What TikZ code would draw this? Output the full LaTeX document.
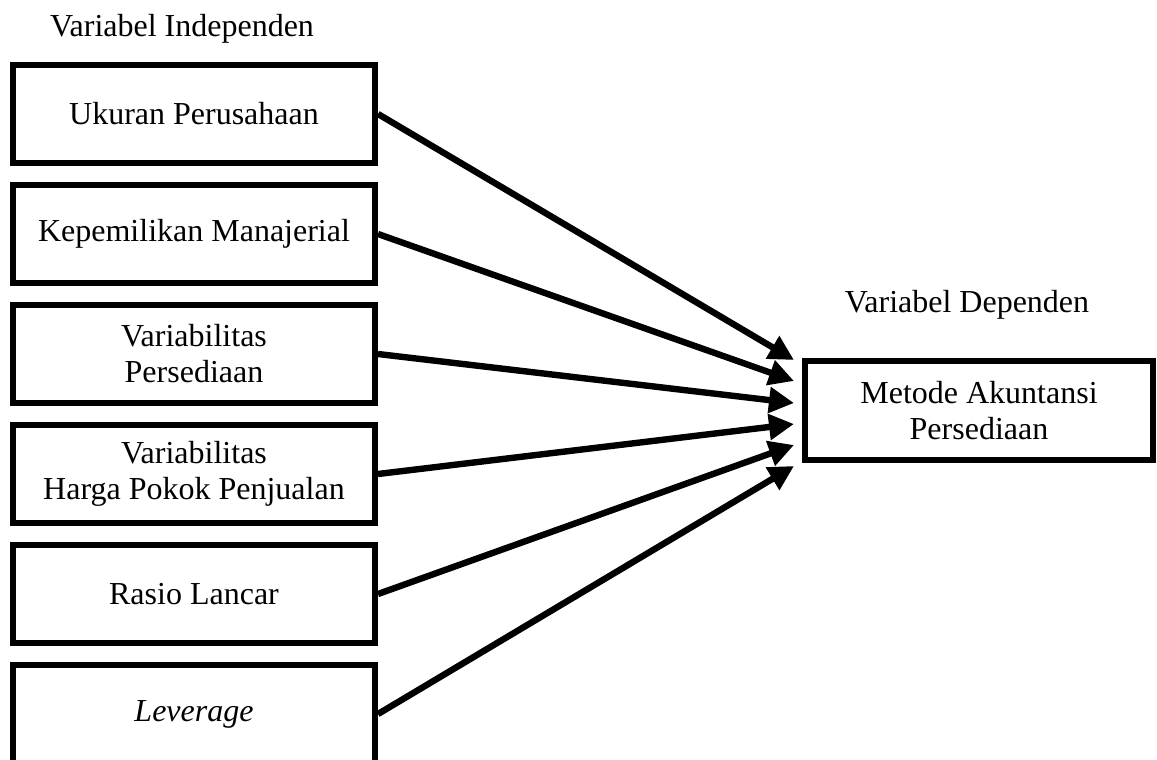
\documentclass[tikz,border=0pt]{standalone}
\usepackage{fontspec}
\setmainfont{Liberation Serif}
\usetikzlibrary{arrows.meta}

\begin{document}
\begin{tikzpicture}[x=0.5pt,y=-0.5pt,
    every node/.style={font=\fontsize{16}{18}\selectfont, align=center, inner sep=0pt},
    varbox/.style={draw, line width=3pt, minimum width=181pt, minimum height=49pt},
    depbox/.style={draw, line width=3pt, minimum width=174pt, minimum height=49.5pt},
    arr/.style={line width=3.2pt, -{Triangle[length=12.5pt,width=12.5pt]}}]
      \useasboundingbox (0,0) rectangle (1157,760);
      \node(VI) at (182,29) {Variabel Independen};
      \node(VD) at (967,305) {Variabel Dependen};
      \node[varbox](UP) at (194,114) {Ukuran Perusahaan};
      \node[varbox](KM) at (194,234) {Kepemilikan Manajerial};
      \node[varbox](VP) at (194,354) {Variabilitas\\Persediaan};
      \node[varbox](VH) at (194,474) {Variabilitas\\Harga Pokok Penjualan};
      \node[varbox](RL) at (194,594) {Rasio Lancar};
      \node[varbox](LV) at (194,714) {\textit{Leverage}};
      \node[depbox](MA) at (979,410.5) {Metode Akuntansi\\Persediaan};
      \coordinate (T1) at (794,360);
      \coordinate (T2) at (794,381);
      \coordinate (T3) at (794,403);
      \coordinate (T4) at (794,424);
      \coordinate (T5) at (794,445);
      \coordinate (T6) at (794,466);
      \draw[arr] (UP.east) -- (T1);
      \draw[arr] (KM.east) -- (T2);
      \draw[arr] (VP.east) -- (T3);
      \draw[arr] (VH.east) -- (T4);
      \draw[arr] (RL.east) -- (T5);
      \draw[arr] (LV.east) -- (T6);
    \end{tikzpicture}
\end{document}
